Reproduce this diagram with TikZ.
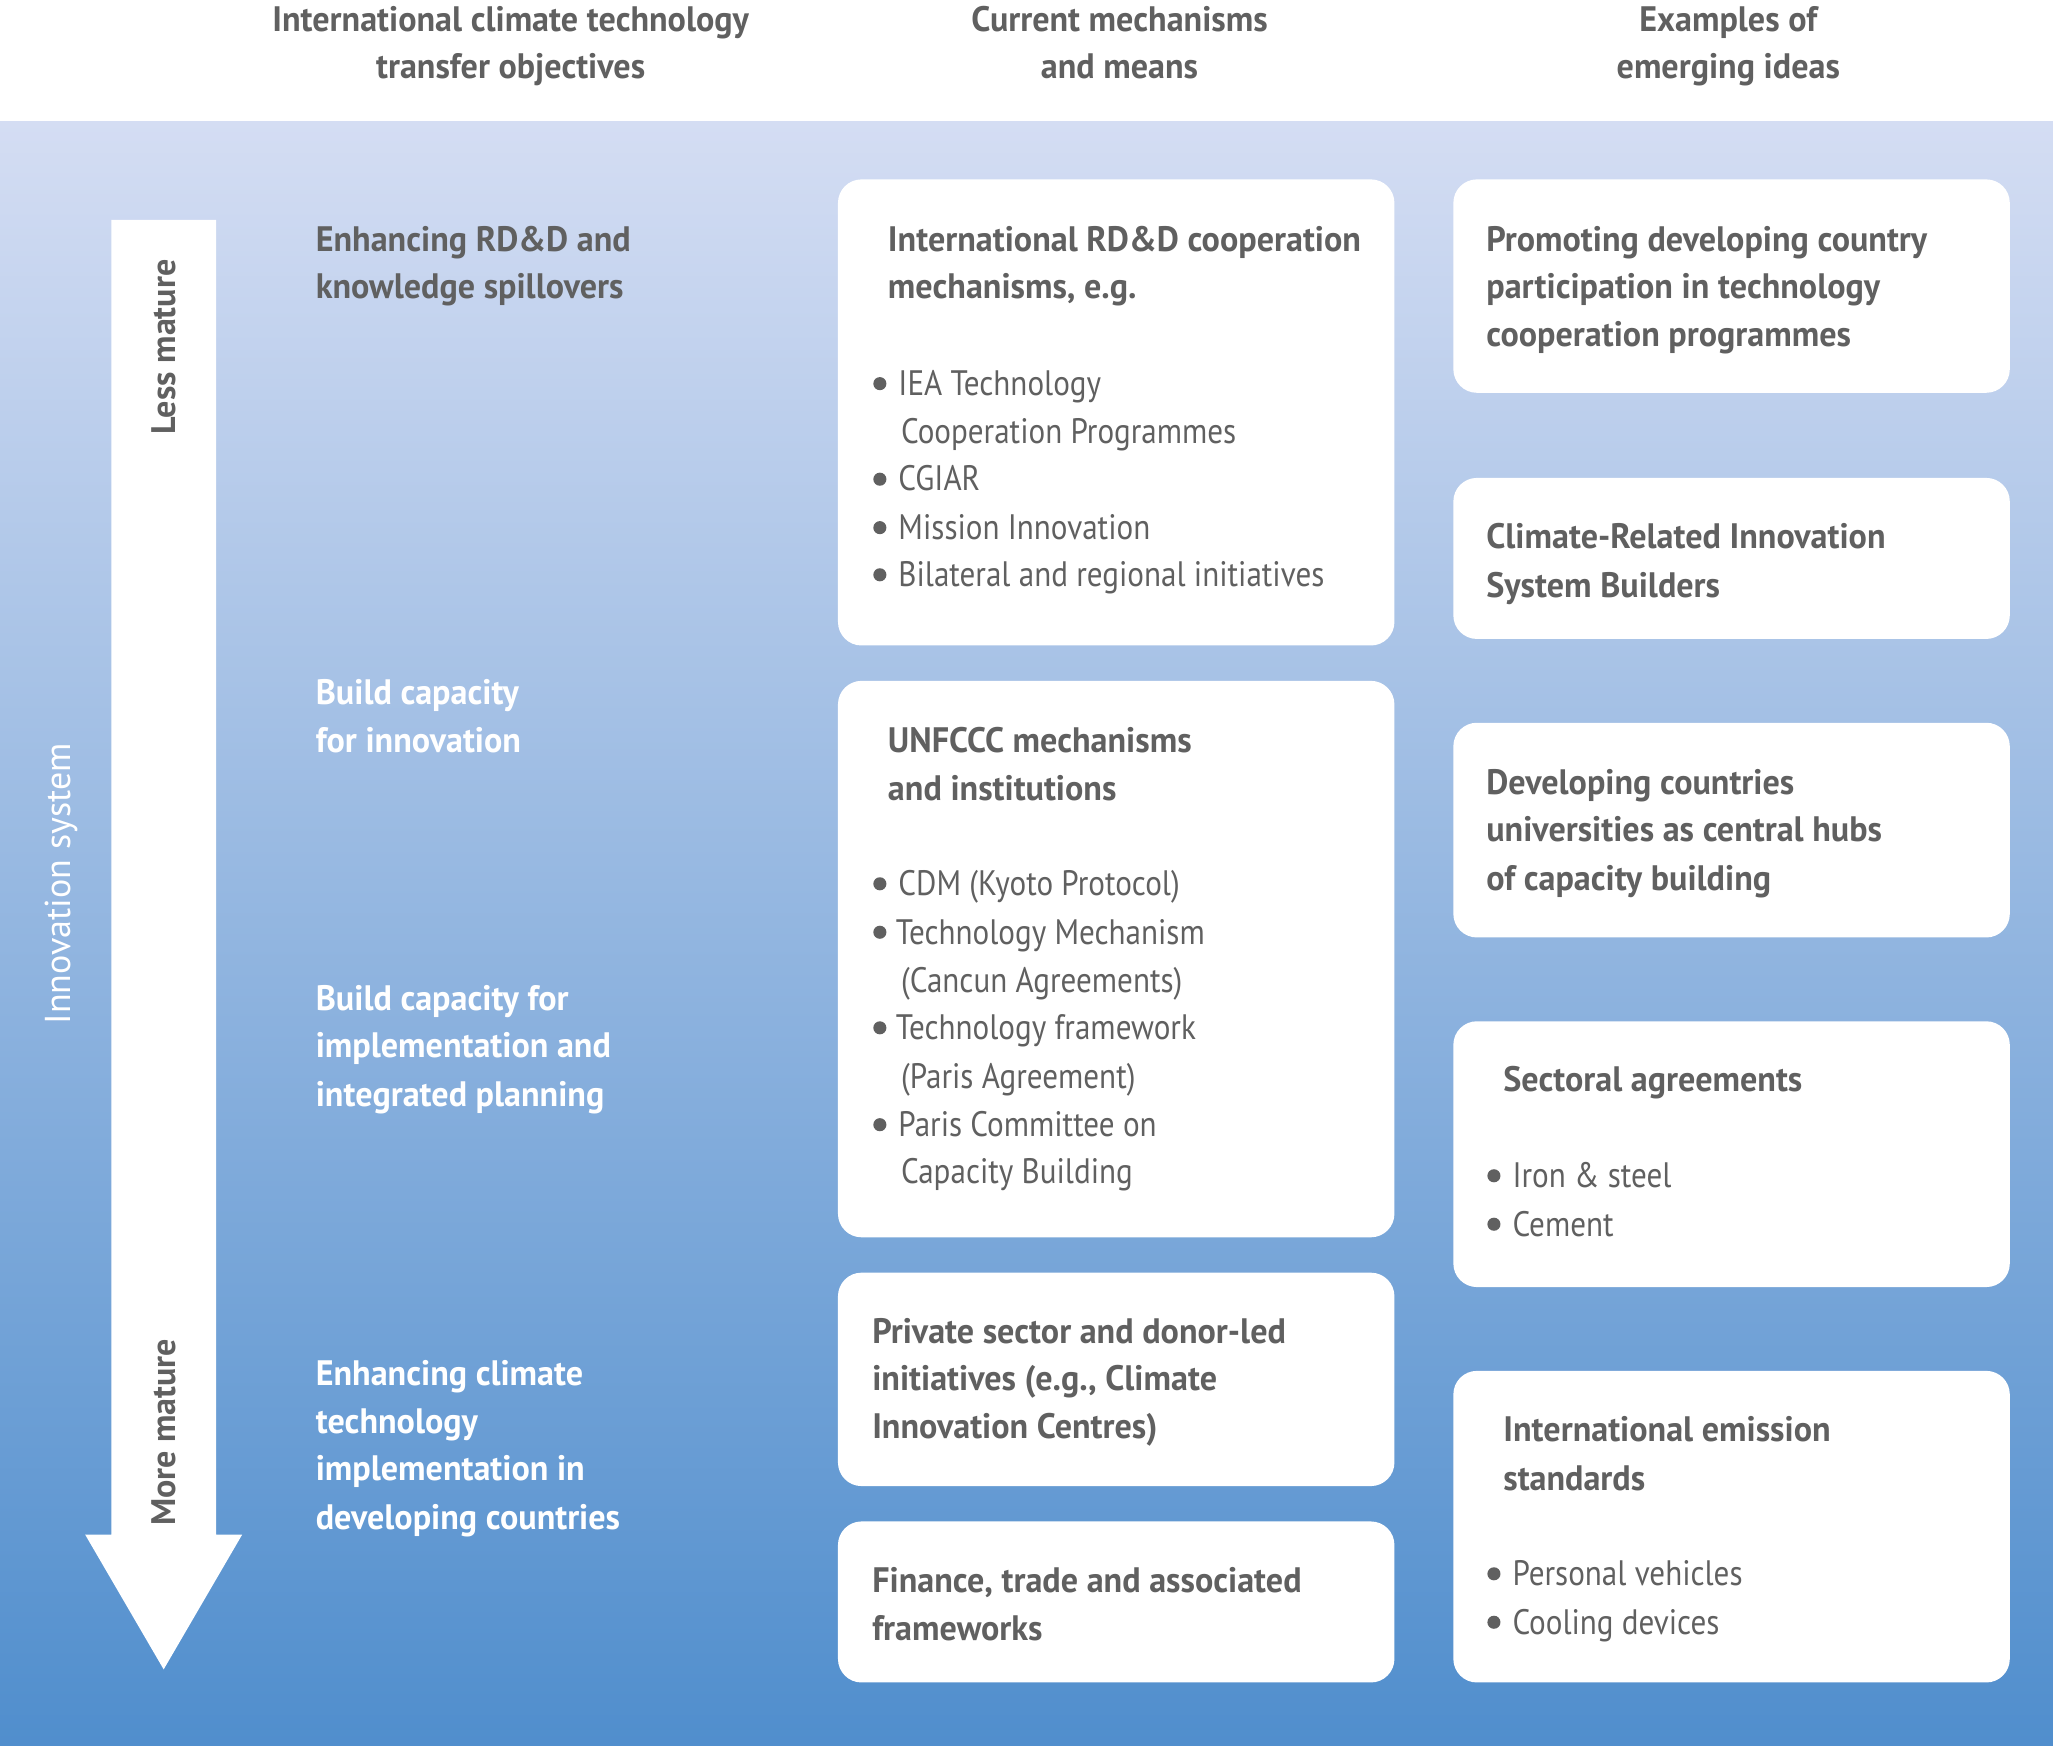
\documentclass[tikz,border=0pt]{standalone}
\usepackage{fontspec}
\setmainfont[FakeStretch=0.88]{PT Sans}
\newfontfamily\hfont[FakeStretch=0.965]{PT Sans}
\newfontfamily\widefont{PT Sans}
\definecolor{textgrey}{RGB}{96,96,96}
\definecolor{bgtop}{RGB}{212,221,243}
\definecolor{bgbot}{RGB}{80,142,205}
\tikzset{
  box/.style={fill=white, rounded corners=18pt, inner sep=0pt, outer sep=0pt, anchor=north west},
  txt/.style={anchor=base west, inner sep=0pt, text=textgrey, font=\fontsize{27}{33}\selectfont},
  head/.style={txt, font=\fontsize{27}{33}\selectfont\hfont\bfseries},
  wtxt/.style={head, text=white},
  htxt/.style={head, anchor=base},
  bul/.style={circle, fill=textgrey, inner sep=0pt, minimum size=10pt},
  side/.style={rotate=90, inner sep=0pt, font=\fontsize{26}{30}\selectfont\widefont\bfseries, text=textgrey}
}
\begin{document}
\begin{tikzpicture}[x=1pt,y=-1pt]
\useasboundingbox (0,0) rectangle (1568,1333);
% background
\shade[top color=bgtop, bottom color=bgbot] (0,93) rectangle (1568,1333);
% column headers
\node[htxt] (h1a) at (390,24) {International climate technology};
\node[htxt] (h1b) at (390,60) {transfer objectives};
\node[htxt] (h2a) at (855,24) {Current mechanisms};
\node[htxt] (h2b) at (855,60) {and means};
\node[htxt] (h3a) at (1320,24) {Examples of};
\node[htxt] (h3b) at (1320,60) {emerging ideas};
% maturity arrow
\fill[white] (85,168) -- (165,168) -- (165,1172) -- (185,1172) -- (125,1275) -- (65,1172) -- (85,1172) -- cycle;
\node[side] (less) at (125,265) {Less mature};
\node[side] (more) at (125,1094) {More mature};
\node[side, text=white, font=\fontsize{27.5}{30}\selectfont\widefont] (innov) at (47,675) {Innovation system};
% objectives
\node[head] (o1a) at (241,192) {Enhancing RD\&D and};
\node[head] (o1b) at (241,228) {knowledge spillovers};
\node[wtxt] (o2a) at (241,538) {Build capacity};
\node[wtxt] (o2b) at (241,575) {for innovation};
\node[wtxt] (o3a) at (241,772) {Build capacity for};
\node[wtxt] (o3b) at (241,808) {implementation and};
\node[wtxt] (o3c) at (241,845) {integrated planning};
\node[wtxt] (o4a) at (241,1058) {Enhancing climate};
\node[wtxt] (o4b) at (241,1095) {technology};
\node[wtxt] (o4c) at (241,1131) {implementation in};
\node[wtxt] (o4d) at (241,1168) {developing countries};
% middle boxes
\node[box, minimum width=425pt, minimum height=356pt] (m1) at (640,137) {};
\node[box, minimum width=425pt, minimum height=425pt] (m2) at (640,520) {};
\node[box, minimum width=425pt, minimum height=163pt] (m3) at (640,972) {};
\node[box, minimum width=425pt, minimum height=123pt] (m4) at (640,1162) {};
% right boxes
\node[box, minimum width=425pt, minimum height=163pt] (r1) at (1110,137) {};
\node[box, minimum width=425pt, minimum height=123pt] (r2) at (1110,365) {};
\node[box, minimum width=425pt, minimum height=164pt] (r3) at (1110,552) {};
\node[box, minimum width=425pt, minimum height=203pt] (r4) at (1110,780) {};
\node[box, minimum width=425pt, minimum height=238pt] (r5) at (1110,1047) {};
% box 1 text
\node[head] (m1h1) at (678,192) {International RD\&D cooperation};
\node[head] (m1h2) at (678,228) {mechanisms, e.g.};
\node[bul] (m1d1) at (672,293) {};
\node[txt] (m1t1) at (686,302) {IEA Technology};
\node[txt] (m1t2) at (688,339) {Cooperation Programmes};
\node[bul] (m1d2) at (672,366) {};
\node[txt] (m1t3) at (686,375) {CGIAR};
\node[bul] (m1d3) at (672,403) {};
\node[txt] (m1t4) at (686,412) {Mission Innovation};
\node[bul] (m1d4) at (672,439) {};
\node[txt] (m1t5) at (686,448) {Bilateral and regional initiatives};
% box 2 text
\node[head] (m2h1) at (678,575) {UNFCCC mechanisms};
\node[head] (m2h2) at (678,611) {and institutions};
\node[bul] (m2d1) at (672,675) {};
\node[txt] (m2t1) at (686,684) {CDM (Kyoto Protocol)};
\node[bul] (m2d2) at (672,712) {};
\node[txt] (m2t2) at (684,721) {Technology Mechanism};
\node[txt] (m2t3) at (688,758) {(Cancun Agreements)};
\node[bul] (m2d3) at (672,785) {};
\node[txt] (m2t4) at (684,794) {Technology framework};
\node[txt] (m2t5) at (688,831) {(Paris Agreement)};
\node[bul] (m2d4) at (672,859) {};
\node[txt] (m2t6) at (686,868) {Paris Committee on};
\node[txt] (m2t7) at (688,904) {Capacity Building};
% box 3 and 4 text
\node[head] (m3h1) at (666,1026) {Private sector and donor-led};
\node[head] (m3h2) at (666,1062) {initiatives (e.g., Climate};
\node[head] (m3h3) at (666,1099) {Innovation Centres)};
\node[head] (m4h1) at (666,1216) {Finance, trade and associated};
\node[head] (m4h2) at (666,1253) {frameworks};
% right boxes text
\node[head] (r1h1) at (1135,192) {Promoting developing country};
\node[head] (r1h2) at (1135,228) {participation in technology};
\node[head] (r1h3) at (1135,265) {cooperation programmes};
\node[head] (r2h1) at (1135,419) {Climate-Related Innovation};
\node[head] (r2h2) at (1135,456) {System Builders};
\node[head] (r3h1) at (1135,607) {Developing countries};
\node[head] (r3h2) at (1135,643) {universities as central hubs};
\node[head] (r3h3) at (1135,680) {of capacity building};
\node[head] (r4h1) at (1148,834) {Sectoral agreements};
\node[bul] (r4d1) at (1141,898) {};
\node[txt] (r4t1) at (1155,907) {Iron \& steel};
\node[bul] (r4d2) at (1141,935) {};
\node[txt] (r4t2) at (1155,944) {Cement};
\node[head] (r5h1) at (1148,1101) {International emission};
\node[head] (r5h2) at (1148,1138) {standards};
\node[bul] (r5d1) at (1141,1202) {};
\node[txt] (r5t1) at (1155,1211) {Personal vehicles};
\node[bul] (r5d2) at (1141,1239) {};
\node[txt] (r5t2) at (1155,1248) {Cooling devices};
\end{tikzpicture}
\end{document}
